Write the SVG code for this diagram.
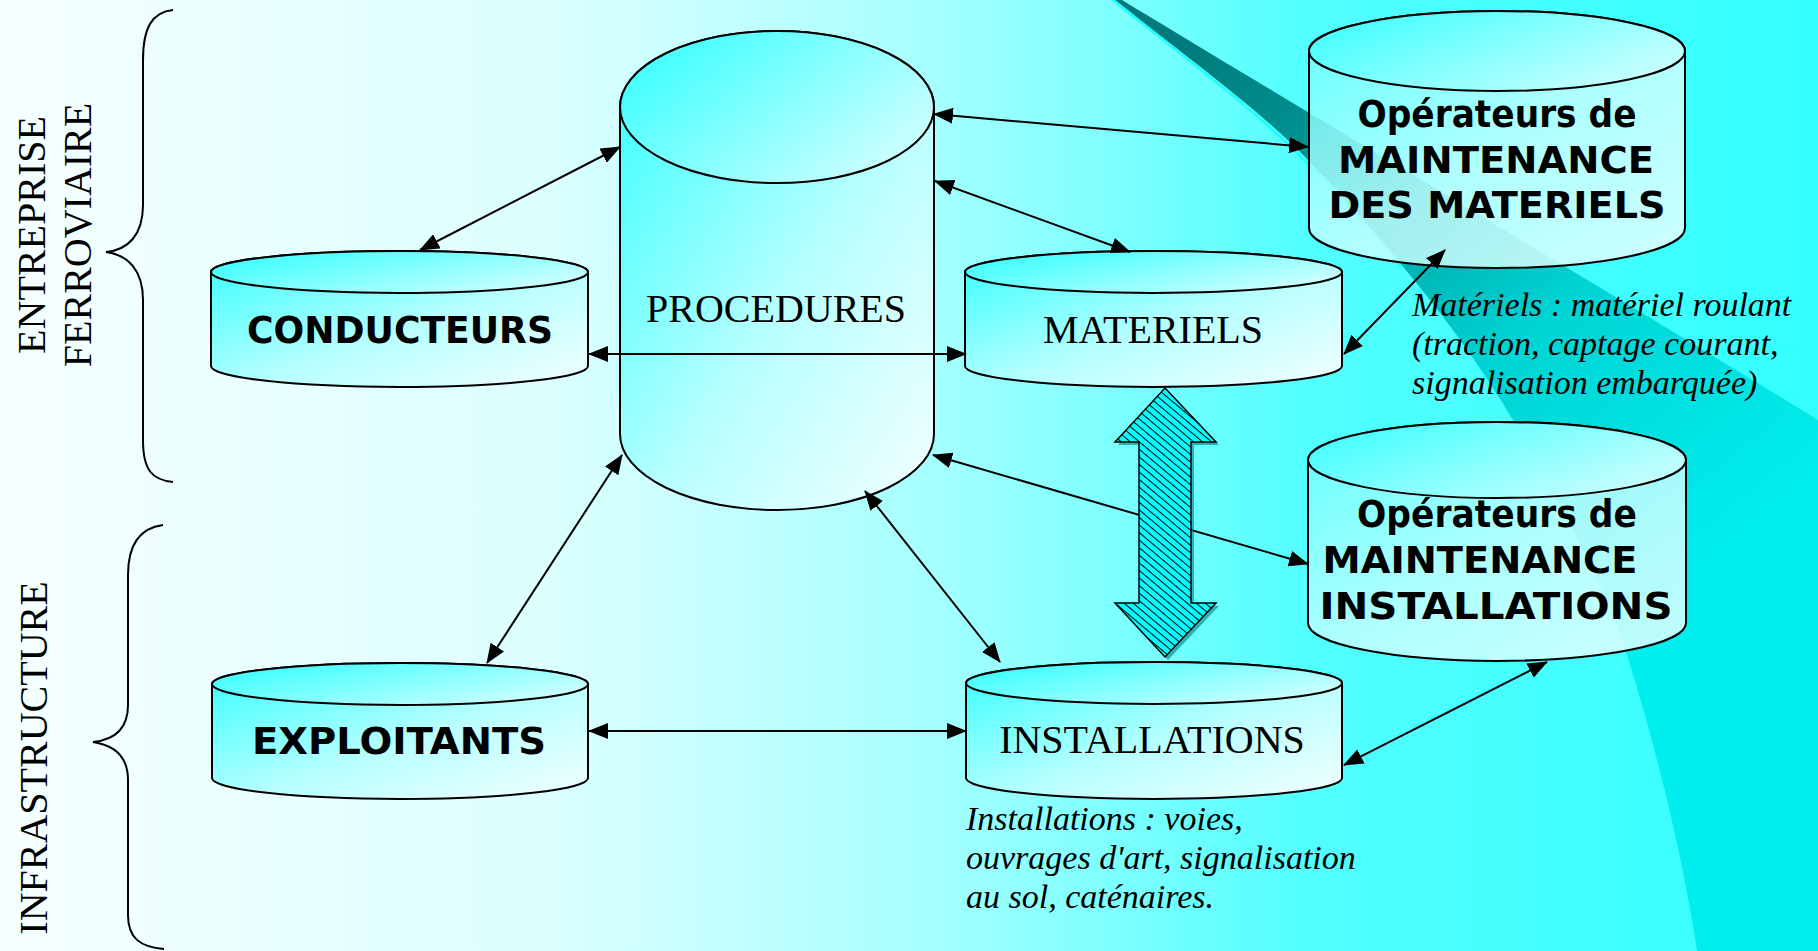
<svg xmlns="http://www.w3.org/2000/svg" width="1818" height="951" viewBox="0 0 1818 951">
  <defs>
    <linearGradient id="bg" x1="0" y1="0" x2="1818" y2="0" gradientUnits="userSpaceOnUse">
      <stop offset="0" stop-color="#f6ffff"/>
      <stop offset="0.3" stop-color="#dcffff"/>
      <stop offset="0.5" stop-color="#aaffff"/>
      <stop offset="0.6" stop-color="#82ffff"/>
      <stop offset="0.72" stop-color="#52ffff"/>
      <stop offset="1" stop-color="#33ffff"/>
    </linearGradient>
    <linearGradient id="swoosh" x1="1180" y1="40" x2="1650" y2="620" gradientUnits="userSpaceOnUse">
      <stop offset="0" stop-color="#007a7a"/>
      <stop offset="0.3" stop-color="#009c9c"/>
      <stop offset="0.6" stop-color="#00d4d4"/>
      <stop offset="1" stop-color="#00eeee"/>
    </linearGradient>
    <linearGradient id="cylBody" x1="0" y1="0" x2="1" y2="1">
      <stop offset="0" stop-color="#33ffff"/>
      <stop offset="0.55" stop-color="#b8ffff"/>
      <stop offset="1" stop-color="#f4ffff"/>
    </linearGradient>
    <linearGradient id="cylTop" x1="0" y1="0" x2="1" y2="0.6">
      <stop offset="0" stop-color="#2bffff"/>
      <stop offset="1" stop-color="#c8ffff"/>
    </linearGradient>
    <linearGradient id="opBody" x1="0" y1="0" x2="1" y2="1">
      <stop offset="0" stop-color="#66ffff"/>
      <stop offset="0.5" stop-color="#c4ffff"/>
      <stop offset="1" stop-color="#eeffff"/>
    </linearGradient>
    <pattern id="hatch" width="10" height="5.8" patternUnits="userSpaceOnUse" patternTransform="rotate(40)">
      <rect width="10" height="5.8" fill="#00ffff"/>
      <line x1="0" y1="0.5" x2="10" y2="0.5" stroke="#000" stroke-width="1"/>
    </pattern>
    <marker id="head" viewBox="0 0 20 16" refX="19" refY="8" markerWidth="20" markerHeight="16" markerUnits="userSpaceOnUse" orient="auto-start-reverse">
      <path d="M0,0 L20,8 L0,16 Z" fill="#000"/>
    </marker>
    <style>
      .cyl { fill: url(#cylBody); stroke: #000; stroke-width: 2; }
      .cyltop { fill: url(#cylTop); stroke: #000; stroke-width: 2; }
      .op { fill: url(#opBody); fill-opacity: 0.82; stroke: #000; stroke-width: 2; }
      .optop { fill: url(#cylTop); fill-opacity: 0.85; stroke: #000; stroke-width: 2; }
      .link { fill: none; stroke: #000; stroke-width: 2; marker-start: url(#head); marker-end: url(#head); }
      .brace { fill: none; stroke: #000; stroke-width: 2; }
      .serif { font-family: "Liberation Serif", "Times New Roman", serif; font-size: 40px; fill: #000; }
      .note { font-family: "Liberation Serif", "Times New Roman", serif; font-size: 34px; font-style: italic; fill: #000; }
      .bold { font-family: "DejaVu Sans", "Liberation Sans", sans-serif; font-size: 37px; font-weight: bold; fill: #000; }
    </style>
  </defs>

  <!-- background and decorative swoosh -->
  <rect x="0" y="0" width="1818" height="951" fill="url(#bg)"/>
  <path d="M1115,0 L1122,0 C1300,108 1560,262 1818,420 L1818,951 L1697,951 C1685,870 1660,760 1627,655 C1610,600 1570,520 1513,420 C1460,330 1380,235 1308,160 C1260,110 1190,60 1115,0 Z" fill="url(#swoosh)"/>
  <path d="M1113,0 C1188,60 1258,112 1306,162 C1350,206 1380,240 1402,268" fill="none" stroke="#1affff" stroke-width="2.5"/>

  <!-- side braces and group labels -->
  <g id="group-entreprise">
    <path class="brace" d="M173,10 C152,12 143,28 143,60 L143,205 C143,235 128,250 106,252 C128,255 143,270 143,300 L143,440 C143,470 152,480 173,482"/>
    <text class="serif" transform="translate(45,235) rotate(-90)" text-anchor="middle">ENTREPRISE</text>
    <text class="serif" transform="translate(91,235) rotate(-90)" text-anchor="middle">FERROVIAIRE</text>
  </g>
  <g id="group-infrastructure">
    <path class="brace" d="M163,525 C140,528 128,545 128,575 L128,705 C128,730 113,740 93,742 C113,745 128,755 128,780 L128,915 C128,938 140,947 164,949"/>
    <text class="serif" transform="translate(47,758) rotate(-90)" text-anchor="middle">INFRASTRUCTURE</text>
  </g>

  <!-- nodes -->
  <g id="procedures">
    <path class="cyl" d="M620,107 V434 A157,76 0 0 0 934,434 V107 A157,76 0 0 0 620,107 Z"/>
    <ellipse class="cyltop" cx="777" cy="107" rx="157" ry="76"/>
    <text class="serif" x="776" y="322" text-anchor="middle">PROCEDURES</text>
  </g>
  <g id="conducteurs">
    <path class="cyl" d="M211,272 V366 A188.5,21 0 0 0 588,366 V272 A188.5,21 0 0 0 211,272 Z"/>
    <ellipse class="cyltop" cx="399.5" cy="272" rx="188.5" ry="21"/>
    <text class="bold" x="400" y="343" text-anchor="middle" textLength="306" lengthAdjust="spacingAndGlyphs">CONDUCTEURS</text>
  </g>
  <g id="materiels">
    <path class="cyl" d="M965,272 V366 A188.5,21 0 0 0 1342,366 V272 A188.5,21 0 0 0 965,272 Z"/>
    <ellipse class="cyltop" cx="1153.5" cy="272" rx="188.5" ry="21"/>
    <text class="serif" x="1153" y="343" text-anchor="middle">MATERIELS</text>
  </g>
  <g id="exploitants">
    <path class="cyl" d="M212,684 V778 A188,21 0 0 0 588,778 V684 A188,21 0 0 0 212,684 Z"/>
    <ellipse class="cyltop" cx="400" cy="684" rx="188" ry="21"/>
    <text class="bold" x="399" y="754" text-anchor="middle" textLength="294" lengthAdjust="spacingAndGlyphs">EXPLOITANTS</text>
  </g>
  <g id="installations">
    <path class="cyl" d="M966,683 V778 A188,21 0 0 0 1342,778 V683 A188,21 0 0 0 966,683 Z"/>
    <ellipse class="cyltop" cx="1154" cy="683" rx="188" ry="21"/>
    <text class="serif" x="1152" y="753" text-anchor="middle">INSTALLATIONS</text>
  </g>
  <g id="maintenance-materiels">
    <path class="op" d="M1309,51 V228 A188,40 0 0 0 1685,228 V51 A188,40 0 0 0 1309,51 Z"/>
    <ellipse class="optop" cx="1497" cy="51" rx="188" ry="40"/>
    <text class="bold" x="1497" y="127" text-anchor="middle" textLength="279" lengthAdjust="spacingAndGlyphs">Opérateurs de</text>
    <text class="bold" x="1496" y="173" text-anchor="middle" textLength="316" lengthAdjust="spacingAndGlyphs">MAINTENANCE</text>
    <text class="bold" x="1497" y="218" text-anchor="middle" textLength="337" lengthAdjust="spacingAndGlyphs">DES MATERIELS</text>
  </g>
  <g id="maintenance-installations">
    <path class="op" d="M1308,460 V623 A189,38 0 0 0 1686,623 V460 A189,38 0 0 0 1308,460 Z"/>
    <ellipse class="optop" cx="1497" cy="460" rx="189" ry="38"/>
    <text class="bold" x="1497" y="527" text-anchor="middle" textLength="280" lengthAdjust="spacingAndGlyphs">Opérateurs de</text>
    <text class="bold" x="1480" y="573" text-anchor="middle" textLength="315" lengthAdjust="spacingAndGlyphs">MAINTENANCE</text>
    <text class="bold" x="1496" y="619" text-anchor="middle" textLength="353" lengthAdjust="spacingAndGlyphs">INSTALLATIONS</text>
  </g>

  <!-- explanatory notes -->
  <g id="note-materiels" class="note">
    <text x="1412" y="316">Matériels : matériel roulant</text>
    <text x="1412" y="355">(traction, captage courant,</text>
    <text x="1412" y="394">signalisation embarquée)</text>
  </g>
  <g id="note-installations" class="note">
    <text x="966" y="830">Installations : voies,</text>
    <text x="966" y="869">ouvrages d'art, signalisation</text>
    <text x="966" y="908">au sol, caténaires.</text>
  </g>

  <!-- connectors -->
  <g id="connectors">
    <line class="link" x1="420" y1="250" x2="620" y2="147"/>
    <line class="link" x1="589" y1="354" x2="966" y2="354"/>
    <line class="link" x1="934" y1="114" x2="1308" y2="147"/>
    <line class="link" x1="935" y1="181" x2="1130" y2="252"/>
    <line class="link" x1="1344" y1="354" x2="1445" y2="250"/>
    <line class="link" x1="933" y1="455" x2="1308" y2="564"/>
    <line class="link" x1="865" y1="491" x2="1000" y2="662"/>
    <line class="link" x1="487" y1="663" x2="622" y2="455"/>
    <line class="link" x1="589" y1="731" x2="966" y2="731"/>
    <line class="link" x1="1344" y1="765" x2="1547" y2="662"/>
  </g>

  <!-- hatched double arrow between MATERIELS and INSTALLATIONS -->
  <g id="exchange-arrow">
    <polygon points="1168,391 1219,445 1194,445 1194,606 1219,606 1168,660 1118,606 1142,606 1142,445 1118,445" fill="#008080" opacity="0.6"/>
    <polygon points="1165,388 1216,442 1191,442 1191,603 1216,603 1165,657 1115,603 1139,603 1139,442 1115,442" fill="url(#hatch)" stroke="#000" stroke-width="1.5"/>
  </g>
</svg>
